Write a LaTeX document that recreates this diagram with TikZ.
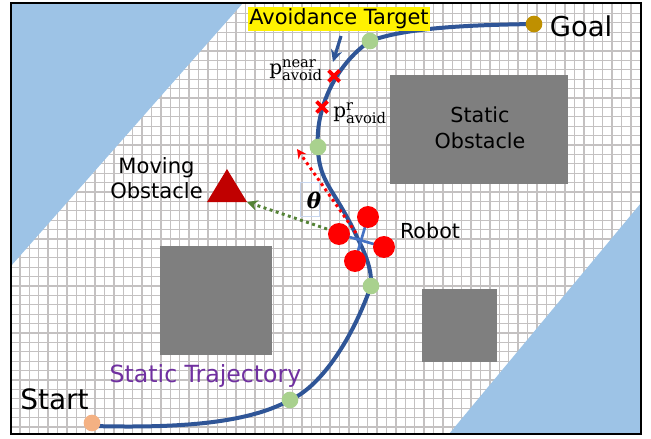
\documentclass[tikz,border=0pt]{standalone}
\usepackage{fontspec}
\setmainfont{DejaVu Sans}
\newfontfamily\serifp{DejaVu Serif}
\usetikzlibrary{arrows.meta,calc}
\definecolor{wpgreen}{HTML}{A9D18E}
\definecolor{obsgray}{HTML}{7F7F7F}
\definecolor{skyb}{HTML}{9DC3E6}
\definecolor{trajblue}{HTML}{2F5597}
\definecolor{armblue}{HTML}{4472C4}
\definecolor{gridg}{HTML}{C4C1C1}
\definecolor{darkgreen}{HTML}{548235}
\definecolor{darkr}{HTML}{C00000}
\definecolor{purp}{HTML}{7030A0}
\definecolor{startcol}{HTML}{F4B183}
\definecolor{goalcol}{HTML}{BF9000}
\tikzset{x=0.75pt,y=-0.75pt,
  wp/.style={circle,fill=wpgreen,inner sep=0pt,minimum size=12.5pt},
  rotor/.style={circle,fill=red,inner sep=0pt,minimum size=16.5pt},
  lbl/.style={inner sep=0pt,text=black},
  cross/.style={draw=red,line width=2.8pt},
  obstacle/.style={fill=obsgray,draw=none},
  freeblue/.style={fill=skyb,draw=none},
  traj/.style={draw=trajblue,line width=3pt,line cap=round},
  arm/.style={draw=armblue,line width=2pt},
  dots/.style={line width=2.2pt,dash pattern=on 2.2pt off 2.6pt},
}
\newcommand{\pav}[1]{{\serifp p}$^{\hbox{\fontsize{11}{11}\selectfont\serifp #1}}_{\hbox{\fontsize{11}{11}\selectfont\serifp avoid}}$}
\begin{document}
\begin{tikzpicture}
\useasboundingbox (0,0) rectangle (651,439);
\fill[white] (11,3) rectangle (641,434);
\begin{scope}
\clip (11,3) rectangle (641,434);
\foreach \i in {1,...,67} \draw[gridg,line width=1pt] ({10.5+9.4*\i},3) -- ({10.5+9.4*\i},434);
\foreach \i in {1,...,45} \draw[gridg,line width=1pt] (11,{4+9.4*\i}) -- (641,{4+9.4*\i});
\end{scope}
\fill[freeblue] (11,3) -- (243,3) -- (11,266) -- cycle;
\fill[freeblue] (641,203) -- (641,434) -- (449,434) -- cycle;
\fill[obstacle] (390,75) rectangle (568,184);
\fill[obstacle] (160,246) rectangle (272,355);
\fill[obstacle] (422,289) rectangle (497,362);
\draw[black,line width=1.5pt] (11,3) rectangle (641,434);

\coordinate (w1) at (290,400);
\coordinate (w2) at (371,286);
\coordinate (w3) at (318,147);
\coordinate (w4) at (370,41);
\coordinate (startc) at (92,423);
\coordinate (startl) at (92,426);
\coordinate (goalc) at (534,24);

\draw[traj] (startl) .. controls (170,428) and (245,425) .. (w1)
  .. controls (318,388) and (350,345) .. (w2)
  .. controls (372,270) and (366,255) .. (357,237)
  .. controls (351,224) and (345,213) .. (337,200)
  .. controls (328,185) and (318,172) .. (w3)
  .. controls (315,110) and (335,65) .. (w4)
  .. controls (405,28) and (465,25) .. (goalc);

\node[wp] (n1) at (w1) {};
\node[wp] (n2) at (w2) {};
\node[wp] (n3) at (w3) {};
\node[wp] (n4) at (w4) {};
\node[circle,fill=startcol,inner sep=0pt,minimum size=12.5pt] (startn) at (startc) {};
\node[circle,fill=goalcol,inner sep=0pt,minimum size=12.5pt] (goaln) at (goalc) {};

\node[fill=yellow,inner sep=0pt,minimum width=137pt,minimum height=18pt,font=\fontsize{15.7}{15.7}\selectfont] (avoid) at (339,19) {Avoidance Target};
\node[lbl,font=\fontsize{20.5}{20.5}\selectfont] (goal) at (581,26) {Goal};
\node[lbl,font=\fontsize{21}{21}\selectfont] (start) at (54.5,399) {Start};
\node[lbl,font=\fontsize{17.7}{17.7}\selectfont,text=purp] (stat) at (205.5,376) {Static Trajectory};
\node[lbl,font=\fontsize{15.5}{19.5}\selectfont,align=center] (so) at (480,128) {Static\\Obstacle};
\node[lbl,font=\fontsize{15.8}{18.8}\selectfont,align=center] (mo) at (156.5,178) {Moving\\Obstacle};
\node[lbl,font=\fontsize{15.5}{15.5}\selectfont] (robot) at (430,231) {Robot};
\node[lbl,font=\fontsize{15}{15}\selectfont,anchor=west] (pn) at (269,70) {\pav{near}};
\node[lbl,font=\fontsize{15}{15}\selectfont,anchor=west] (pr) at (333,113) {\pav{r}};

\coordinate (xn) at (334,76);
\coordinate (xr) at (322,107);
\draw[cross] ($(xn)+(-5.5,-5.5)$) -- ($(xn)+(5.5,5.5)$) ($(xn)+(-5.5,5.5)$) -- ($(xn)+(5.5,-5.5)$);
\draw[cross] ($(xr)+(-5.5,-5.5)$) -- ($(xr)+(5.5,5.5)$) ($(xr)+(-5.5,5.5)$) -- ($(xr)+(5.5,-5.5)$);
\coordinate (a1) at (341,36);
\coordinate (a2) at (333,62);
\draw[trajblue,line width=2.4pt,-{Stealth[length=9pt,width=8.5pt]}] (a1) -- (a2);

\draw[armblue!30,line width=0.5pt] (300,182) rectangle (319,216);
\node[inner sep=0pt,font=\fontsize{16}{16}\selectfont\serifp\bfseries\itshape] (th) at (314,200) {θ};

\fill[darkr] (227,169) -- (247,202) -- (207,202) -- cycle;

\coordinate (c1) at (339,234);
\coordinate (c2) at (368,217);
\coordinate (c3) at (384,247);
\coordinate (c4) at (355,261);
\draw[arm] (c1) -- (c3);
\draw[arm] (c2) -- (c4);
\node[rotor] (r1) at (c1) {};
\node[rotor] (r2) at (c2) {};
\node[rotor] (r3) at (c3) {};
\node[rotor] (r4) at (c4) {};

\coordinate (rs) at (356,233);
\coordinate (rtip) at (297,149);
\coordinate (gs) at (327,229);
\coordinate (gt) at (247,202);
\draw[red,dots,-{Stealth[length=7pt,width=7pt]}] (rs) -- (rtip);
\draw[darkgreen,dots,-{Stealth[length=8pt,width=8pt]}] (gs) -- (gt);
\end{tikzpicture}
\end{document}
